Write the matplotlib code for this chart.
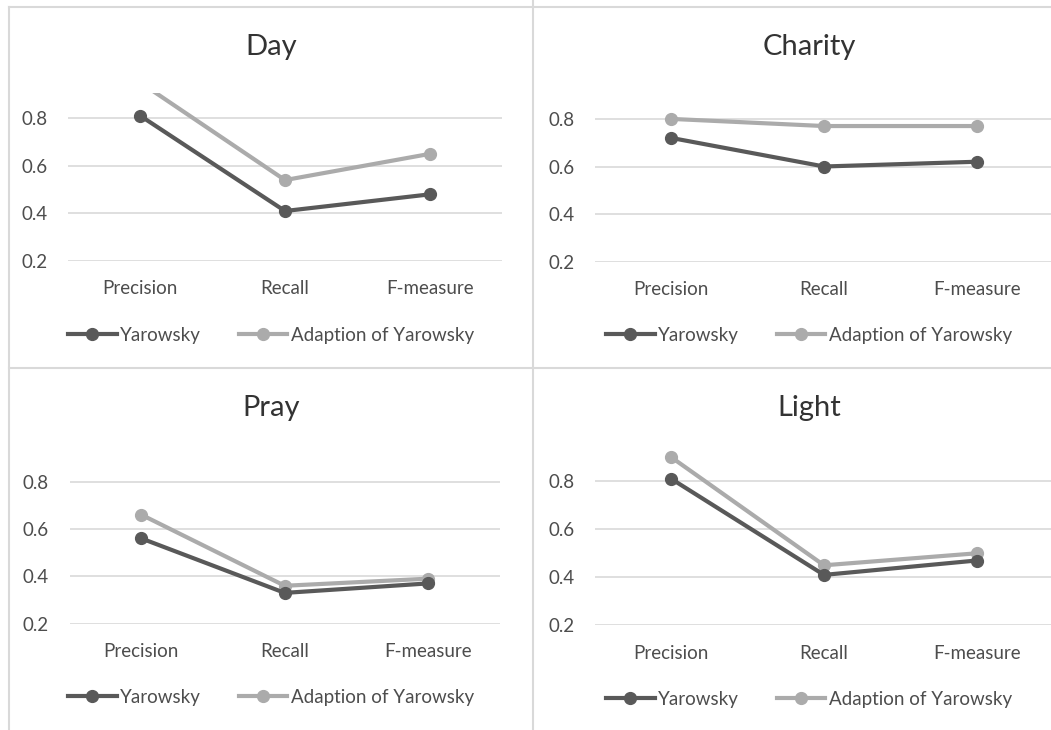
import matplotlib
matplotlib.use("Agg")
import matplotlib.pyplot as plt
from matplotlib.lines import Line2D

plt.rcParams['font.family'] = ['Lato', 'DejaVu Sans']

categories = ["Precision", "Recall", "F-measure"]
series_names = ["Yarowsky", "Adaption of Yarowsky"]
titles = ["Day", "Charity", "Pray", "Light"]

day_yarowsky = [0.81, 0.41, 0.48]
day_adaption = [0.95, 0.54, 0.65]
charity_yarowsky = [0.72, 0.60, 0.62]
charity_adaption = [0.80, 0.77, 0.77]
pray_yarowsky = [0.56, 0.33, 0.37]
pray_adaption = [0.66, 0.36, 0.39]
light_yarowsky = [0.81, 0.41, 0.47]
light_adaption = [0.90, 0.45, 0.50]

yticks = [0.2, 0.4, 0.6, 0.8]
ytick_labels = ["0.2", "0.4", "0.6", "0.8"]

data = [(day_yarowsky, day_adaption), (charity_yarowsky, charity_adaption),
        (pray_yarowsky, pray_adaption), (light_yarowsky, light_adaption)]

W, H = 1051, 730
fig = plt.figure(figsize=(W / 100, H / 100), dpi=100)
fig.patch.set_facecolor("white")

# axes positions in pixel coords: (left, right, y of 0.2, px per 0.1)
layout = [
    (68, 502, 261, 23.8),
    (595, 1053, 261.7, 23.8),
    (69.5, 500, 623.7, 23.7),
    (595, 1053, 625.3, 24.0),
]
centers = [(271, 47, 335), (809, 47, 335), (271, 408, 697), (809, 408, 699)]

ymin, ymax = 0.2, 0.905
dark = "#595959"
light = "#ababab"
txt = "#4d4d4d"

# panel borders
border = "#d9d9d9"
for (x0, y0, x1, y1) in [(9, 7, 9, 730), (9, 7, 1051, 7), (533, 0, 533, 730), (9, 368, 1051, 368)]:
    fig.add_artist(Line2D([x0 / W, x1 / W], [1 - y0 / H, 1 - y1 / H],
                          color=border, lw=1.5, transform=fig.transFigure))

for i, (ax_l, ax_r, y02, ppt) in enumerate(layout):
    height_px = (ymax - ymin) * 10 * ppt
    bottom = (H - y02) / H
    ax = fig.add_axes([ax_l / W, bottom, (ax_r - ax_l) / W, height_px / H])
    yv, av = data[i]
    x = list(range(len(categories)))
    clip = max(max(yv), max(av)) > ymax
    ax.plot(x, yv, color=dark, lw=3, marker="o", ms=8.5, label=series_names[0],
            clip_on=clip, zorder=4)
    ax.plot(x, av, color=light, lw=3, marker="o", ms=8.5, label=series_names[1],
            clip_on=clip, zorder=3)
    ax.set_xlim(-0.5, len(categories) - 0.5)
    ax.set_ylim(ymin, ymax)
    ax.set_yticks(yticks)
    ax.set_yticklabels(ytick_labels)
    ax.set_xticks(x)
    ax.set_xticklabels(categories)
    ax.tick_params(axis="y", length=0, pad=15, labelsize=13.5, labelcolor=txt)
    ax.tick_params(axis="x", length=0, pad=14, labelsize=13.5, labelcolor=txt)
    for s in ax.spines.values():
        s.set_visible(False)
    ax.grid(axis="y", color="#d9d9d9", lw=1.2)
    ax.set_axisbelow(True)
    ax.patch.set_alpha(0)

    cx, ty, ly = centers[i]
    fig.text(cx / W, 1 - ty / H, titles[i], ha="center", va="center",
             fontsize=21, color="#333333")
    handles, labels = ax.get_legend_handles_labels()
    fig.legend(handles, labels, loc="center", bbox_to_anchor=(cx / W, 1 - ly / H),
               bbox_transform=fig.transFigure, ncol=2, frameon=False,
               fontsize=13.5, labelcolor=txt, handlelength=2.6, handletextpad=0.2,
               columnspacing=2.0)

fig.savefig("out.png", dpi=100, facecolor="white")
